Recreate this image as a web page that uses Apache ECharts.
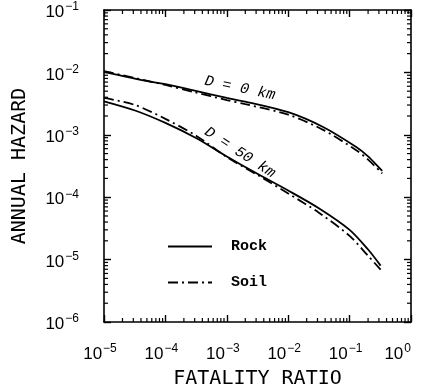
<!DOCTYPE html>
<html><head><meta charset="utf-8">
<script src="https://cdn.jsdelivr.net/npm/echarts@6/dist/echarts.min.js"></script>
<style>html,body{margin:0;padding:0;background:#fff}#c{width:422px;height:390px}</style>
</head><body><div id="c"></div>
<script>
// ---- data ----
const xD0Rock   = [1e-5, 5.6e-5, 1e-4, 3e-4, 1e-3, 2e-3, 1e-2, 3.7e-2, 1.3e-1, 2e-1, 3.1e-1, 3.4e-1];
const yD0Rock   = [1.02e-2, 7.1e-3, 6.5e-3, 5.1e-3, 3.9e-3, 3.4e-3, 2.3e-3, 1.33e-3, 6.3e-4, 4.5e-4, 2.9e-4, 2.65e-4];
const xD0Soil   = [1e-5, 1e-4, 3e-4, 1e-3, 2e-3, 1e-2, 3.7e-2, 1.3e-1, 2e-1, 3.4e-1];
const yD0Soil   = [1.05e-2, 6.3e-3, 4.8e-3, 3.6e-3, 3.1e-3, 2.1e-3, 1.2e-3, 5.6e-4, 4.0e-4, 2.4e-4];
const xD50Rock  = [1e-5, 3.2e-5, 1e-4, 3.2e-4, 1e-3, 3.1e-3, 1e-2, 3.2e-2, 1e-1, 2e-1, 3.2e-1];
const yD50Rock  = [3.44e-3, 2.45e-3, 1.55e-3, 8.8e-4, 4.5e-4, 2.39e-4, 1.28e-4, 6.6e-5, 3.0e-5, 1.45e-5, 8.0e-6];
const xD50Soil  = [1e-5, 3.2e-5, 1e-4, 3.2e-4, 1e-3, 3.1e-3, 1e-2, 3.2e-2, 1e-1, 2e-1, 3.2e-1];
const yD50Soil  = [3.9e-3, 3.0e-3, 1.8e-3, 9.6e-4, 4.4e-4, 2.3e-4, 1.15e-4, 5.6e-5, 2.4e-5, 1.15e-5, 6.9e-6];
const legendNames = ['Rock', 'Soil'];
const curveLabels = ['D = 0 km', 'D = 50 km'];
const curveLabelAnchors = [[1.64e-3, 5.6e-3], [1.64e-3, 5.2e-4]];
const X_MIN = 1e-5, X_MAX = 1, Y_MIN = 1e-6, Y_MAX = 1e-1;
const xMinorTicks = [], yMinorTicks = [];
for (let e = -5; e < 0; e++) for (let m = 2; m <= 9; m++) xMinorTicks.push(m * Math.pow(10, e));
for (let e = -6; e < -1; e++) for (let m = 2; m <= 9; m++) yMinorTicks.push(m * Math.pow(10, e));

const pair = (xs, ys) => xs.map((x, i) => [x, ys[i]]);
const expOf = v => Math.round(Math.log10(v));
const expTxt = e => (e < 0 ? '\u2212' + (-e) : String(e));
const fmtY = v => '{b|10}{s|' + expTxt(expOf(v)) + '}';
const fmtX = v => {
  const e = expOf(v);
  return '{b|10}{s|' + expTxt(e) + '}' + (e === 0 ? '' : '{p|}');
};
const richLbl = {
  b: {fontSize: 17, fontFamily: 'Liberation Sans', color: '#000', lineHeight: 22, verticalAlign: 'bottom'},
  s: {fontSize: 12, fontFamily: 'Liberation Sans', color: '#000', lineHeight: 22, verticalAlign: 'bottom', padding: [0, 0, 8, 1]},
  p: {width: 8, lineHeight: 22}
};
const axisLine = {show: true, lineStyle: {color: '#000', width: 1.6}};
const tickStyle = {show: true, inside: true, length: 7, lineStyle: {color: '#000', width: 1.4}};
const solid = {color: '#000', width: 1.8, type: 'solid'};
const dashDot = {color: '#000', width: 1.8, type: [10, 4, 2, 4]};
const titleStyle = {fontFamily: 'DejaVu Sans Mono', fontSize: 20, color: '#000'};

const chart = echarts.init(document.getElementById('c'), null, {renderer: 'canvas'});
const tickRender = (isX) => (params, api) => {
  const v = api.value(isX ? 0 : 1);
  const L = 4, st = {stroke: '#000', lineWidth: 1.2};
  if (isX) {
    const a = api.coord([v, Y_MIN]), b = api.coord([v, Y_MAX]);
    return {type: 'group', children: [
      {type: 'line', shape: {x1: a[0], y1: a[1], x2: a[0], y2: a[1] - L}, style: st},
      {type: 'line', shape: {x1: b[0], y1: b[1], x2: b[0], y2: b[1] + L}, style: st}]};
  } else {
    const a = api.coord([X_MIN, v]), b = api.coord([X_MAX, v]);
    return {type: 'group', children: [
      {type: 'line', shape: {x1: a[0], y1: a[1], x2: a[0] + L, y2: a[1]}, style: st},
      {type: 'line', shape: {x1: b[0], y1: b[1], x2: b[0] - L, y2: b[1]}, style: st}]};
  }
};
chart.setOption({
  animation: false,
  backgroundColor: '#fff',
  grid: {left: 104, right: 11, top: 10, bottom: 68, containLabel: false, outerBoundsMode: 'none'},
  legend: {
    data: legendNames, orient: 'vertical', left: 162, top: 234,
    itemWidth: 44, itemHeight: 14, itemGap: 21,
    itemStyle: {opacity: 0},
    textStyle: {fontFamily: 'Liberation Mono', fontWeight: 'bold', fontSize: 15, color: '#000', padding: [0, 0, 0, 14]}
  },
  xAxis: [
    {type: 'log', logBase: 10, min: X_MIN, max: X_MAX, position: 'bottom',
     name: 'FATALITY RATIO', nameLocation: 'middle', nameGap: 47, nameTextStyle: titleStyle,
     axisLine, axisTick: tickStyle, splitLine: {show: false},
     axisLabel: {formatter: fmtX, rich: richLbl, margin: 19, alignMaxLabel: 'right', hideOverlap: false}},
    {type: 'log', logBase: 10, min: X_MIN, max: X_MAX, position: 'top',
     axisLine, axisTick: tickStyle, splitLine: {show: false}, axisLabel: {show: false}}
  ],
  yAxis: [
    {type: 'log', logBase: 10, min: Y_MIN, max: Y_MAX, position: 'left',
     name: 'ANNUAL HAZARD', nameLocation: 'middle', nameGap: 74, nameRotate: 90, nameTextStyle: titleStyle,
     axisLine, axisTick: tickStyle, splitLine: {show: false},
     axisLabel: {formatter: fmtY, rich: richLbl, margin: 25}},
    {type: 'log', logBase: 10, min: Y_MIN, max: Y_MAX, position: 'right',
     axisLine, axisTick: tickStyle, splitLine: {show: false}, axisLabel: {show: false}}
  ],
  series: [
    {name: 'Rock', type: 'line', data: pair(xD0Rock, yD0Rock), smooth: 0.3, symbol: 'none', lineStyle: solid, itemStyle: {color: '#000'}},
    {name: 'Soil', type: 'line', data: pair(xD0Soil, yD0Soil), smooth: 0.3, symbol: 'none', lineStyle: dashDot, itemStyle: {color: '#000'}},
    {name: 'Rock', type: 'line', data: pair(xD50Rock, yD50Rock), smooth: 0.3, symbol: 'none', lineStyle: solid, itemStyle: {color: '#000'}},
    {name: 'Soil', type: 'line', data: pair(xD50Soil, yD50Soil), smooth: 0.3, symbol: 'none', lineStyle: dashDot, itemStyle: {color: '#000'}},
    {name: 'xminor', type: 'custom', silent: true, data: xMinorTicks.map(v => [v, Y_MIN]), renderItem: tickRender(true)},
    {name: 'yminor', type: 'custom', silent: true, data: yMinorTicks.map(v => [X_MIN, v]), renderItem: tickRender(false)}
  ]
});
const rotations = [-12, -33];
chart.setOption({
  graphic: curveLabels.map((t, i) => {
    const p = chart.convertToPixel({xAxisIndex: 0, yAxisIndex: 0}, curveLabelAnchors[i]);
    return {type: 'text', x: p[0], y: p[1], rotation: rotations[i] * Math.PI / 180,
      style: {text: t, fontFamily: 'Liberation Mono', fontStyle: 'italic', fontSize: 15, fill: '#000',
              align: 'center', verticalAlign: 'middle'}};
  })
});
</script></body></html>
